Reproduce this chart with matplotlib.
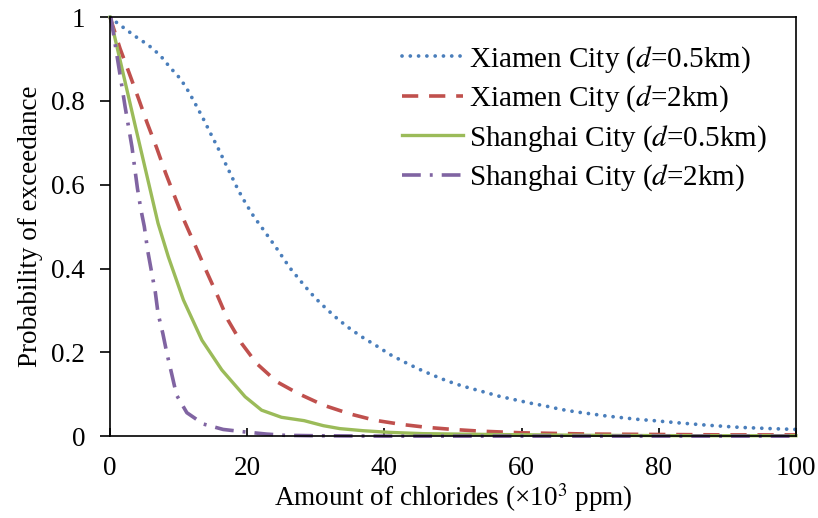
"""
Exceedance probability of airborne chloride amount, Xiamen vs Shanghai.
"""

import matplotlib
matplotlib.use("Agg")
import matplotlib.pyplot as plt

# values (x in 10^3 ppm)
xm05_x = [0, 0.97, 3.6, 5.6, 7.3, 8.7, 10.3, 11.5, 12.6, 13.7, 14.7, 15.7, 16.7, 17.7, 18.7, 19.8,
          21.0, 22.3, 24.3, 26.2, 28.4, 29.9, 31.6, 33.3, 35.1, 36.9, 38.9, 40.8, 42.9, 44.9, 47.0,
          49.1, 51.3, 53.5, 56.8, 59.0, 61.2, 63.5, 65.7, 67.9, 70.2, 72.4, 74.7, 77.0, 79.3, 82.7,
          87.2, 91.8, 96.4, 100]
xm05_y = [1.0, 0.987, 0.955, 0.933, 0.909, 0.881, 0.852, 0.821, 0.788, 0.754, 0.721, 0.689, 0.655,
          0.621, 0.587, 0.555, 0.523, 0.494, 0.448, 0.402, 0.358, 0.330, 0.303, 0.278, 0.255, 0.235,
          0.215, 0.195, 0.177, 0.161, 0.146, 0.132, 0.120, 0.110, 0.095, 0.087, 0.079, 0.072, 0.064,
          0.058, 0.053, 0.048, 0.044, 0.040, 0.037, 0.032, 0.026, 0.021, 0.018, 0.016]

xm2_x = [0, 1.46, 2.8, 4.1, 5.4, 6.8, 8.1, 9.5, 10.9, 12.5, 14.1, 15.7, 17.2, 19.2, 21.4, 24.3, 27.4,
         31.1, 35.0, 38.6, 42.5, 46.2, 50.0, 53.9, 60, 70, 80, 90, 100]
xm2_y = [1.0, 0.925, 0.866, 0.808, 0.748, 0.688, 0.628, 0.569, 0.511, 0.452, 0.392, 0.334, 0.277,
         0.221, 0.173, 0.130, 0.102, 0.074, 0.053, 0.038, 0.028, 0.021, 0.016, 0.012, 0.008, 0.005,
         0.004, 0.003, 0.003]

sh05_x = [0, 0.34, 3.6, 7.0, 8.5, 10.7, 13.4, 16.3, 19.7, 22.1, 25.0, 28.3, 31.1, 33.5, 36.9, 40.8,
          45.6, 50.5, 55.4, 70, 85, 100]
sh05_y = [1.0, 0.977, 0.746, 0.508, 0.428, 0.325, 0.229, 0.158, 0.094, 0.062, 0.045, 0.037, 0.025,
          0.018, 0.013, 0.009, 0.006, 0.005, 0.004, 0.002, 0.001, 0.001]

sh2_x = [0, 0.15, 1.2, 1.7, 2.2, 2.7, 3.2, 3.6, 4.0, 4.5, 5.0, 5.5, 6.1, 6.6, 7.0, 7.7, 8.3, 9.0,
         9.7, 11.2, 13.6, 16.5, 19.7, 22.8, 25.5, 30, 40, 100]
sh2_y = [1.0, 0.997, 0.889, 0.838, 0.786, 0.738, 0.690, 0.640, 0.591, 0.541, 0.500, 0.442, 0.388,
         0.344, 0.293, 0.245, 0.197, 0.148, 0.098, 0.056, 0.029, 0.016, 0.010, 0.005, 0.002, 0.001,
         0.0, 0.0]

x_ticks = [0, 20, 40, 60, 80, 100]
y_ticks = [0, 0.2, 0.4, 0.6, 0.8, 1.0]
y_tick_labels = ["0", "0.2", "0.4", "0.6", "0.8", "1"]

plt.rcParams["font.family"] = ["Liberation Serif", "DejaVu Serif"]
plt.rcParams["mathtext.fontset"] = "stix"

fig = plt.figure(figsize=(8.18, 5.18), dpi=100)
ax = fig.add_axes([0.1345, 0.158, 0.8385, 0.809])

ax.plot(xm05_x, xm05_y, color="#4a7ebb", lw=2.7, linestyle=(0, (0.01, 2.2)),
        dash_capstyle="round", clip_on=False, label="Xiamen City ($d$=0.5km)")
ax.plot(xm2_x, xm2_y, color="#c0504d", lw=2.6, linestyle=(0, (4.5, 3.0)),
        clip_on=False, label="Xiamen City ($d$=2km)")
ax.plot(sh05_x, sh05_y, color="#9bbb59", lw=2.4, clip_on=False,
        label="Shanghai City ($d$=0.5km)")
ax.plot(sh2_x, sh2_y, color="#8064a2", lw=2.6, linestyle=(0, (5.2, 2.5, 0.8, 2.5)),
        clip_on=False, label="Shanghai City ($d$=2km)")

ax.set_xlim(0, 100)
ax.set_ylim(0, 1)
ax.set_xticks(x_ticks)
ax.set_yticks(y_ticks)
ax.set_yticklabels(y_tick_labels)
ax.tick_params(axis="x", direction="in", length=6, width=1.2, pad=14, labelsize=19.5)
ax.tick_params(axis="y", direction="out", length=7, width=1.2, pad=11, labelsize=19.5)
for s in ax.spines.values():
    s.set_linewidth(1.2)

ax.set_xlabel("Amount of chlorides (\u00d710$^{3}$ ppm)", fontsize=19.5, labelpad=0)
ax.set_ylabel("Probability of exceedance", fontsize=19.5, labelpad=6)

ax.legend(loc="upper left", bbox_to_anchor=(0.4257, 0.935), frameon=False, fontsize=21,
          borderpad=0, borderaxespad=0, handlelength=2.1, handletextpad=0.2, labelspacing=0.3)

fig.savefig("out.png", dpi=100)
